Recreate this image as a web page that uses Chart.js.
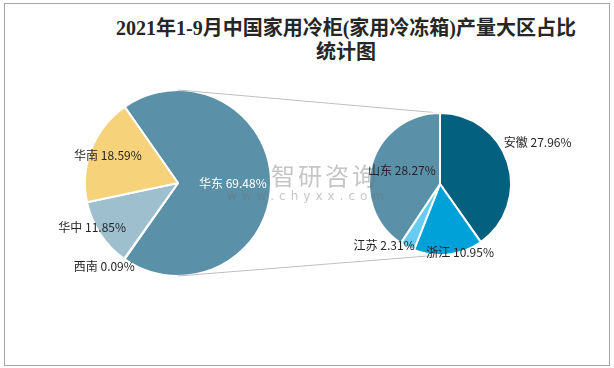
<!DOCTYPE html>
<html>
<head>
<meta charset="utf-8">
<script src="https://cdn.jsdelivr.net/npm/chart.js@4.4.0/dist/chart.umd.min.js"></script>
<style>
  html, body { margin: 0; padding: 0; background: #fff; }
  #wrap { position: relative; width: 614px; height: 368px; overflow: hidden; }
  #frame { position: absolute; left: 4px; top: 3px; width: 604px; height: 361px; border: 1px solid #A6A6A6; }
  #title { position: absolute; left: 96px; width: 500px; top: 16px; text-align: center;
           font: bold 20px 'Liberation Serif', 'Noto Sans CJK SC', serif; line-height: 24px; color: #262626; }
  canvas { position: absolute; left: 0; top: 0; }
</style>
</head>
<body>
<div id="wrap">
  <div id="frame"></div>
  <div id="title">2021年1-9月中国家用冷柜(家用冷冻箱)产量大区占比<br>统计图</div>
  <canvas id="mainPie" width="614" height="368"></canvas>
  <canvas id="subPie" width="614" height="368"></canvas>
</div>
<script>
// shares in % of national output
const regionLabels = ['华东', '西南', '华中', '华南'];
const regionShares = [69.48, 0.09, 11.85, 18.59];
const eastLabels = ['安徽', '浙江', '江苏', '山东'];
const eastShares = [27.96, 10.95, 2.31, 28.27];

const regionColors = ['#5B91A8', '#C9D9E2', '#9EBFCE', '#F6D27A'];
const eastColors = ['#03607F', '#00A1D9', '#66CCF2', '#5B91A8'];

// where each label sits: fraction of radius along the slice middle, plus a nudge
const regionPlace = [
  { f: 0.59, dx: 0, dy: 0, color: '#fff' },
  { f: 1.0, dx: -20, dy: 8 },
  { f: 1.0, dx: -8, dy: -7 },
  { f: 0.81, dx: 0, dy: 0 }
];
const eastPlace = [
  { f: 1.0, dx: 30, dy: -20 },
  { f: 0.97, dx: 12, dy: 0 },
  { f: 1.0, dx: -23, dy: -2 },
  { f: 0.56, dx: 0, dy: -2 }
];

const makeLabels = (place) => ({
  id: 'sliceLabels',
  afterDatasetsDraw(chart) {
    const ctx = chart.ctx;
    const meta = chart.getDatasetMeta(0);
    const values = chart.data.datasets[0].data;
    ctx.save();
    ctx.font = '12px "Noto Sans CJK SC", sans-serif';
    ctx.textAlign = 'center';
    ctx.textBaseline = 'middle';
    meta.data.forEach((arc, i) => {
      const p = place[i];
      const mid = (arc.startAngle + arc.endAngle) / 2;
      const x = arc.x + Math.cos(mid) * arc.outerRadius * p.f + p.dx;
      const y = arc.y + Math.sin(mid) * arc.outerRadius * p.f + p.dy;
      ctx.fillStyle = p.color || '#262626';
      ctx.fillText(chart.data.labels[i] + ' ' + values[i].toFixed(2) + '%', x, y);
    });
    ctx.restore();
  }
});

let mainChart = null;

const connector = {
  id: 'connector',
  beforeDatasetsDraw(chart) {
    if (!mainChart) return;
    const a = mainChart.getDatasetMeta(0).data[0];
    const b = chart.getDatasetMeta(0).data[0];
    const ctx = chart.ctx;
    ctx.save();
    ctx.strokeStyle = '#BFBFBF';
    ctx.lineWidth = 1;
    ctx.beginPath();
    ctx.moveTo(a.x, a.y - a.outerRadius);
    ctx.lineTo(b.x, b.y - b.outerRadius);
    ctx.moveTo(a.x, a.y + a.outerRadius);
    ctx.lineTo(b.x, b.y + b.outerRadius);
    ctx.stroke();
    ctx.restore();
  }
};

const watermark = {
  id: 'watermark',
  afterDatasetsDraw(chart) {
    const ctx = chart.ctx;
    ctx.save();
    ctx.fillStyle = 'rgba(110,110,110,0.4)';
    ctx.textBaseline = 'middle';
    ctx.textAlign = 'center';
    ctx.font = '24px "Noto Sans CJK SC", sans-serif';
    ctx.letterSpacing = '3px';
    ctx.fillText('智研咨询', 325, 176);
    ctx.font = '12px "DejaVu Sans", sans-serif';
    ctx.letterSpacing = '5px';
    ctx.fillText('www.chyxx.com', 308, 197);
    ctx.restore();
  }
};

const baseOptions = (padding) => ({
  responsive: false,
  animation: false,
  layout: { padding },
  plugins: {
    legend: { display: false },
    tooltip: { enabled: false }
  }
});

mainChart = new Chart(document.getElementById('mainPie'), {
  type: 'pie',
  data: {
    labels: regionLabels,
    datasets: [{
      data: regionShares,
      backgroundColor: regionColors,
      borderColor: '#fff',
      borderWidth: 2
    }]
  },
  options: Object.assign(baseOptions({ left: 84, top: 89, right: 342, bottom: 91 }), { rotation: -35 }),
  plugins: [makeLabels(regionPlace)]
});

new Chart(document.getElementById('subPie'), {
  type: 'pie',
  data: {
    labels: eastLabels,
    datasets: [{
      data: eastShares,
      backgroundColor: eastColors,
      borderColor: '#fff',
      borderWidth: 2
    }]
  },
  options: baseOptions({ left: 368, top: 112, right: 102, bottom: 112 }),
  plugins: [connector, watermark, makeLabels(eastPlace)]
});
</script>
</body>
</html>
